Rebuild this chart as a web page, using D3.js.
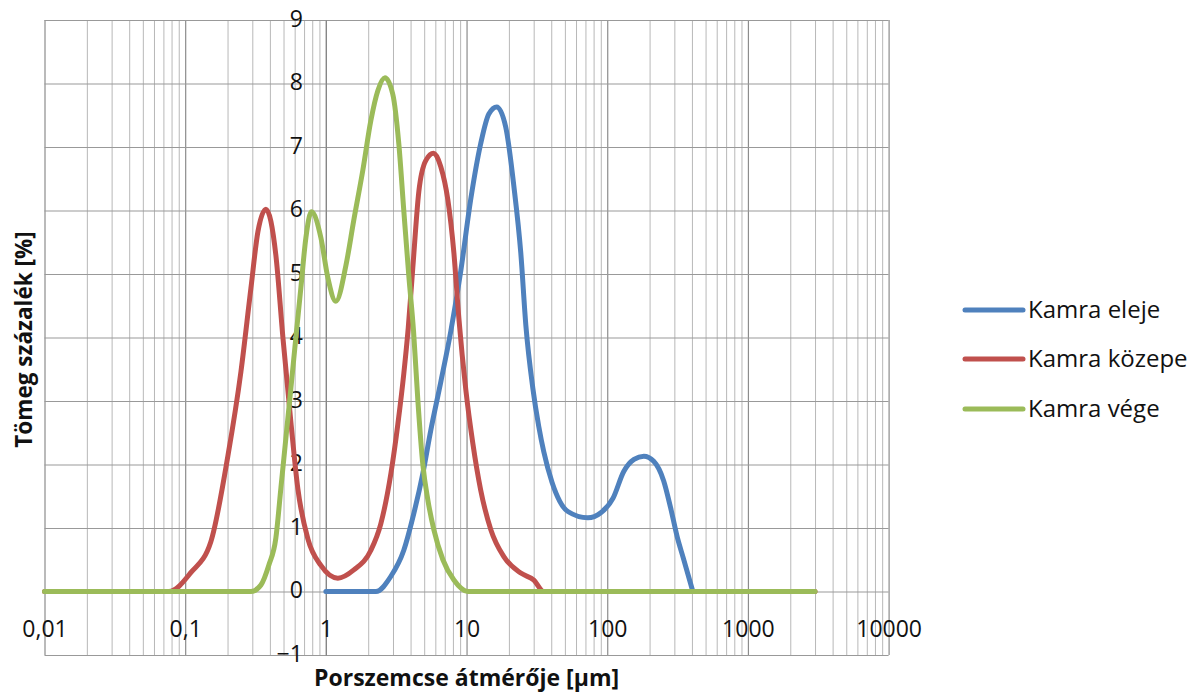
<!DOCTYPE html>
<html>
<head>
<meta charset="utf-8">
<script src="https://cdn.jsdelivr.net/npm/d3@7"></script>
<style>
  html, body { margin: 0; padding: 0; background: #fff; }
  svg { display: block; font-family: "Open Sans", sans-serif; }
</style>
</head>
<body>
<svg id="chart" width="1203" height="693"></svg>
<script>
// ---- data ----
const seriesNames = ["Kamra eleje", "Kamra közepe", "Kamra vége"];
const seriesColors = ["#4F81BD", "#C0504D", "#9BBB59"];

const elejeSize  = [1, 2.27, 2.9, 3.58, 4.22, 4.89, 5.57, 6.56, 7.73, 9.1, 10.7, 12.6, 14.4, 16.4, 19.0, 21.7, 24.3, 26.4, 29.6, 32.6, 35.4, 40.5, 46, 52.5, 72.8, 90, 110, 131, 155, 182, 214, 252, 282, 316, 347, 406];
const elejeValue = [0, 0, 0.24, 0.65, 1.23, 1.86, 2.54, 3.3, 4.1, 5.05, 6.17, 7.05, 7.52, 7.63, 7.31, 6.38, 5.33, 4.19, 3.2, 2.6, 2.2, 1.72, 1.42, 1.26, 1.16, 1.24, 1.47, 1.89, 2.08, 2.13, 2.05, 1.74, 1.32, 0.84, 0.53, 0];

const kozepeSize  = [0.01, 0.0766, 0.11, 0.152, 0.201, 0.249, 0.293, 0.329, 0.375, 0.441, 0.495, 0.564, 0.632, 0.745, 0.922, 1.217, 1.58, 2.09, 2.46, 2.9, 3.25, 3.58, 3.85, 4.15, 4.58, 5.14, 5.83, 6.56, 7.36, 8.13, 8.82, 9.89, 11.09, 12.6, 14.9, 18.4, 24.3, 30.1, 35.4, 3000];
const kozepeValue = [0, 0, 0.3, 0.78, 2.13, 3.46, 4.77, 5.67, 6.02, 5.3, 4.0, 2.67, 1.62, 0.83, 0.41, 0.21, 0.34, 0.65, 1.07, 1.86, 2.64, 3.43, 4.15, 5.1, 6.3, 6.79, 6.9, 6.69, 6.17, 5.33, 4.3, 3.17, 2.33, 1.6, 0.97, 0.55, 0.29, 0.18, 0, 0];

const vegeSize  = [0.01, 0.293, 0.345, 0.394, 0.441, 0.479, 0.52, 0.564, 0.612, 0.664, 0.721, 0.789, 0.922, 1.033, 1.178, 1.387, 1.58, 1.833, 2.09, 2.343, 2.63, 2.99, 3.3, 3.58, 3.89, 4.2, 4.51, 4.89, 5.31, 5.86, 6.79, 8.13, 10.2, 3000];
const vegeValue = [0, 0, 0.1, 0.42, 0.84, 1.63, 2.42, 3.2, 4.0, 4.78, 5.57, 5.98, 5.57, 4.94, 4.57, 5.13, 5.85, 6.64, 7.42, 7.89, 8.09, 7.83, 7.05, 6.0, 4.96, 4.1, 3.0, 2.0, 1.44, 0.97, 0.5, 0.18, 0, 0];

const xTickValues = [0.01, 0.1, 1, 10, 100, 1000, 10000];
const xTickLabels = ["0,01", "0,1", "1", "10", "100", "1000", "10000"];
const yTickValues = [-1, 0, 1, 2, 3, 4, 5, 6, 7, 8, 9];
const xTitle = "Porszemcse átmérője [µm]";
const yTitle = "Tömeg százalék [%]";

// ---- build ----
const series = [
  { name: seriesNames[0], color: seriesColors[0], pts: elejeSize.map((s, i) => [s, elejeValue[i]]) },
  { name: seriesNames[1], color: seriesColors[1], pts: kozepeSize.map((s, i) => [s, kozepeValue[i]]) },
  { name: seriesNames[2], color: seriesColors[2], pts: vegeSize.map((s, i) => [s, vegeValue[i]]) }
];

const svg = d3.select("#chart");
const pLeft = 44.5, pRight = 888.6, pTop = 20, pBottom = 655;

const x = d3.scaleLog().domain([0.01, 10000]).range([pLeft, pRight]);
const y = d3.scaleLinear().domain([-1, 9]).range([pBottom, pTop]);

// minor vertical grid
const minor = [];
for (let d = 0.01; d < 10000; d *= 10) {
  for (let k = 2; k <= 9; k++) minor.push(+(d * k).toPrecision(6));
}
const gMinor = svg.append("g")
  .attr("transform", `translate(0,${pBottom})`)
  .call(d3.axisBottom(x).tickValues(minor).tickSize(-(pBottom - pTop)).tickFormat(""));
gMinor.select(".domain").remove();
gMinor.selectAll("line").attr("stroke", "#b8b8b8").attr("stroke-width", 1);

// major vertical grid
const gMajor = svg.append("g")
  .attr("transform", `translate(0,${pBottom})`)
  .call(d3.axisBottom(x).tickValues(xTickValues).tickSize(-(pBottom - pTop)).tickFormat(""));
gMajor.select(".domain").remove();
gMajor.selectAll("line").attr("stroke", "#8c8c8c").attr("stroke-width", 1.2);

// horizontal grid
const gH = svg.append("g")
  .attr("transform", `translate(${pLeft},0)`)
  .call(d3.axisLeft(y).tickValues(yTickValues).tickSize(-(pRight - pLeft)).tickFormat(""));
gH.select(".domain").remove();
gH.selectAll("line").attr("stroke", "#999999").attr("stroke-width", 1.2);

// y axis labels at x = 1
const gY = svg.append("g")
  .attr("transform", `translate(${x(1)},0)`)
  .call(d3.axisLeft(y).tickValues(yTickValues).tickSize(0).tickPadding(23).tickFormat(d3.format("d")));
gY.select(".domain").attr("stroke", "#868686").attr("stroke-width", 1.2);
gY.selectAll("text").attr("font-size", 23).attr("fill", "#111")
  .attr("font-family", "Open Sans").attr("dy", "0.28em");

// x axis labels
const gX = svg.append("g")
  .attr("transform", `translate(0,${y(0)})`)
  .call(d3.axisBottom(x).tickValues(xTickValues).tickSize(0).tickPadding(29)
    .tickFormat((d, i) => xTickLabels[i]));
gX.select(".domain").remove();
gX.selectAll("text").attr("font-size", 23).attr("fill", "#111").attr("font-family", "Open Sans");

// series lines
const line = d3.line()
  .x(d => x(d[0]))
  .y(d => y(d[1]))
  .curve(d3.curveMonotoneX);

svg.append("g").selectAll("path")
  .data(series)
  .join("path")
  .attr("d", d => line(d.pts))
  .attr("fill", "none")
  .attr("stroke", d => d.color)
  .attr("stroke-width", 5)
  .attr("stroke-linejoin", "round")
  .attr("stroke-linecap", "round");

// axis titles
svg.append("text")
  .attr("x", (pLeft + pRight) / 2)
  .attr("y", 686)
  .attr("text-anchor", "middle")
  .attr("font-weight", "bold")
  .attr("font-size", 23)
  .attr("fill", "#111")
  .text(xTitle);

svg.append("text")
  .attr("transform", `translate(32,${(pTop + pBottom) / 2 + 2}) rotate(-90)`)
  .attr("text-anchor", "middle")
  .attr("font-weight", "bold")
  .attr("font-size", 22.5)
  .attr("fill", "#111")
  .text(yTitle);

// legend
const legendY = [310, 359, 409];
const lg = svg.append("g").selectAll("g")
  .data(series)
  .join("g")
  .attr("transform", (d, i) => `translate(965,${legendY[i]})`);
lg.append("line")
  .attr("x1", 0).attr("x2", 58)
  .attr("stroke", d => d.color)
  .attr("stroke-width", 5)
  .attr("stroke-linecap", "round");
lg.append("text")
  .attr("x", 63)
  .attr("dy", "0.35em")
  .attr("font-size", 24)
  .attr("fill", "#111")
  .text(d => d.name);
</script>
</body>
</html>
